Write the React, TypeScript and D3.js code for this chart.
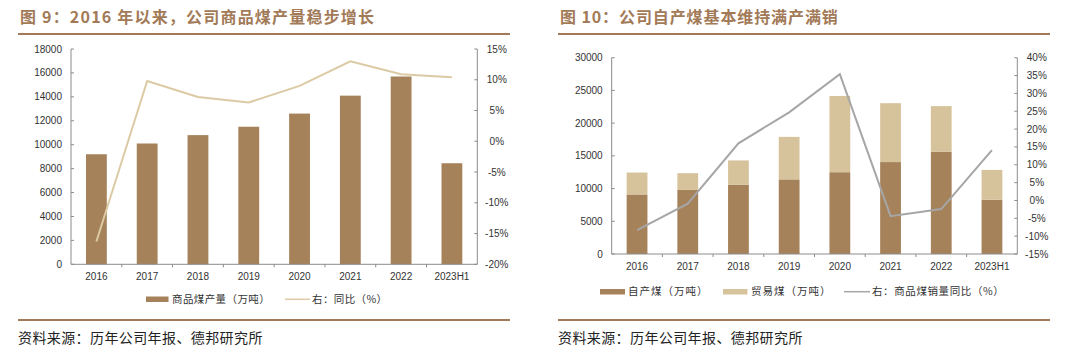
import * as d3 from "d3"

const years = ["2016", "2017", "2018", "2019", "2020", "2021", "2022", "2023H1"]

// 图9
const coalOutput = [9200, 10100, 10800, 11500, 12600, 14100, 15700, 8450]
const outputYoY = [-16.3, 9.8, 7.2, 6.3, 9.0, 13.0, 10.9, 10.4]
const leftTicks1 = [0, 2000, 4000, 6000, 8000, 10000, 12000, 14000, 16000, 18000]
const rightTicks1 = [-20, -15, -10, -5, 0, 5, 10, 15]

// 图10
const selfCoal = [9100, 9800, 10600, 11400, 12500, 14050, 15650, 8300]
const tradeCoal = [3350, 2550, 3700, 6500, 11650, 9000, 6950, 4550]
const salesYoY = [-8.3, -0.9, 16.0, 24.7, 35.4, -4.4, -2.4, 14.1]
const leftTicks2 = [0, 5000, 10000, 15000, 20000, 25000, 30000]
const rightTicks2 = [-15, -10, -5, 0, 5, 10, 15, 20, 25, 30, 35, 40]

const NUM = "'Liberation Sans', Arial, sans-serif"
const CN = "'Noto Sans CJK SC', sans-serif"
const BROWN = "#a27a58"
const DARK = "#a6825a"
const LIGHT = "#d7c39b"
const TAN_LINE = "#dccaa4"
const GRAY_LINE = "#a6a6a6"
const AXIS = "#8c8c8c"

function Axes({ x, yL, yR, leftTicks, rightTicks, x0, x1, labelY }: any) {
  const [b, t] = yL.range()
  return (
    <g>
      <line x1={x0} x2={x0} y1={t} y2={b} stroke={AXIS} />
      <line x1={x1} x2={x1} y1={t} y2={b} stroke={AXIS} />
      <line x1={x0} x2={x1} y1={b} y2={b} stroke={AXIS} />
      {leftTicks.map((v: number) => (
        <g key={"l" + v}>
          <line x1={x0} x2={x0 + 3} y1={yL(v)} y2={yL(v)} stroke={AXIS} />
          <text x={x0 - 9} y={yL(v)} dy="0.35em" textAnchor="end" fontSize={10} fontFamily={NUM} fill="#333">
            {v}
          </text>
        </g>
      ))}
      {rightTicks.map((v: number) => (
        <g key={"r" + v}>
          <line x1={x1 - 3} x2={x1} y1={yR(v)} y2={yR(v)} stroke={AXIS} />
          <text x={x1 + 19.5} y={yR(v)} dy="0.35em" textAnchor="middle" fontSize={10} fontFamily={NUM} fill="#333">
            {v}%
          </text>
        </g>
      ))}
      {years.map((c, i) => (
        <g key={c}>
          {i > 0 && <line x1={x(c)} x2={x(c)} y1={b} y2={b + 3} stroke={AXIS} />}
          <text x={x(c) + x.bandwidth() / 2} y={labelY} dy="0.35em" textAnchor="middle" fontSize={10} fontFamily={NUM} fill="#333">
            {c}
          </text>
        </g>
      ))}
    </g>
  )
}

function Frame({ ox, title, spacing }: { ox: number; title: string; spacing: number }) {
  return (
    <g>
      <text x={ox + 20} y={23} fontSize={16} fontWeight="bold" fontFamily={CN} fill={BROWN} letterSpacing={spacing}>
        {title}
      </text>
      <line x1={ox + 18} x2={ox + 510} y1={34} y2={34} stroke={BROWN} strokeWidth={2} />
      <line x1={ox + 18} x2={ox + 510} y1={320} y2={320} stroke={BROWN} strokeWidth={2} />
      <text x={ox + 18} y={338} dy="0.35em" fontSize={14} fontFamily={CN} fill="#222" letterSpacing={0.4}>
        资料来源：历年公司年报、德邦研究所
      </text>
    </g>
  )
}

function Chart9() {
  const x0 = 71, x1 = 477.3, top = 49, bottom = 264.3
  const x = d3.scaleBand<string>().domain(years).range([x0, x1])
  const yL = d3.scaleLinear().domain([0, 18000]).range([bottom, top])
  const yR = d3.scaleLinear().domain([-20, 15]).range([bottom, top])
  const bw = x.bandwidth() * 0.41
  const line = d3
    .line<number>()
    .x((_, i) => x(years[i])! + x.bandwidth() / 2)
    .y((d) => yR(d))
  return (
    <g>
      <Frame ox={0} title="图 9：2016 年以来，公司商品煤产量稳步增长" spacing={1.2} />
      {coalOutput.map((v, i) => (
        <rect
          key={i}
          x={x(years[i])! + (x.bandwidth() - bw) / 2}
          y={yL(v)}
          width={bw}
          height={yL(0) - yL(v)}
          fill={DARK}
        />
      ))}
      <path d={line(outputYoY)!} fill="none" stroke={TAN_LINE} strokeWidth={2} />
      <Axes x={x} yL={yL} yR={yR} leftTicks={leftTicks1} rightTicks={rightTicks1} x0={x0} x1={x1} labelY={276} />
      <g fontFamily={CN} fontSize={10.5} fill="#333">
        <rect x={146} y={296.5} width={22.5} height={5.5} fill={DARK} />
        <text x={172} y={299.3} dy="0.35em" letterSpacing={0.4}>商品煤产量（万吨）</text>
        <line x1={285} x2={310} y1={299.3} y2={299.3} stroke={TAN_LINE} strokeWidth={1.5} />
        <text x={312} y={299.3} dy="0.35em" letterSpacing={0.4}>右：同比（%）</text>
      </g>
    </g>
  )
}

function Chart10() {
  const ox = 540
  const x0 = 611.7, x1 = 1017.3, top = 57.7, bottom = 254
  const x = d3.scaleBand<string>().domain(years).range([x0, x1])
  const yL = d3.scaleLinear().domain([0, 30000]).range([bottom, top])
  const yR = d3.scaleLinear().domain([-15, 40]).range([bottom, top])
  const bw = x.bandwidth() * 0.41
  const stacked = d3.stack<number>().keys(["self", "trade"]).value((i, k) => (k === "self" ? selfCoal[i] : tradeCoal[i]))(
    years.map((_, i) => i)
  )
  const colors = [DARK, LIGHT]
  const line = d3
    .line<number>()
    .x((_, i) => x(years[i])! + x.bandwidth() / 2)
    .y((d) => yR(d))
  return (
    <g>
      <Frame ox={ox} title="图 10：公司自产煤基本维持满产满销" spacing={0.9} />
      {stacked.map((s, si) =>
        s.map((d, i) => (
          <rect
            key={si + "-" + i}
            x={x(years[i])! + (x.bandwidth() - bw) / 2}
            y={yL(d[1])}
            width={bw}
            height={yL(d[0]) - yL(d[1])}
            fill={colors[si]}
          />
        ))
      )}
      <path d={line(salesYoY)!} fill="none" stroke={GRAY_LINE} strokeWidth={2} />
      <Axes x={x} yL={yL} yR={yR} leftTicks={leftTicks2} rightTicks={rightTicks2} x0={x0} x1={x1} labelY={266} />
      <g fontFamily={CN} fontSize={10.5} fill="#333">
        <rect x={600} y={289} width={25} height={5.5} fill={DARK} />
        <text x={628} y={291.7} dy="0.35em" letterSpacing={1}>自产煤（万吨）</text>
        <rect x={723} y={289} width={24.5} height={5.5} fill={LIGHT} />
        <text x={751} y={291.7} dy="0.35em" letterSpacing={1}>贸易煤（万吨）</text>
        <line x1={844} x2={870} y1={291.7} y2={291.7} stroke={GRAY_LINE} strokeWidth={1.5} />
        <text x={872} y={291.7} dy="0.35em" letterSpacing={0.6}>右：商品煤销量同比（%）</text>
      </g>
    </g>
  )
}

export default function App() {
  return (
    <div style={{ position: "absolute", left: 0, top: 0, background: "#fff" }}>
      <svg width={1080} height={352} style={{ display: "block" }}>
        <rect width={1080} height={352} fill="#fff" />
        <Chart9 />
        <Chart10 />
      </svg>
    </div>
  )
}
